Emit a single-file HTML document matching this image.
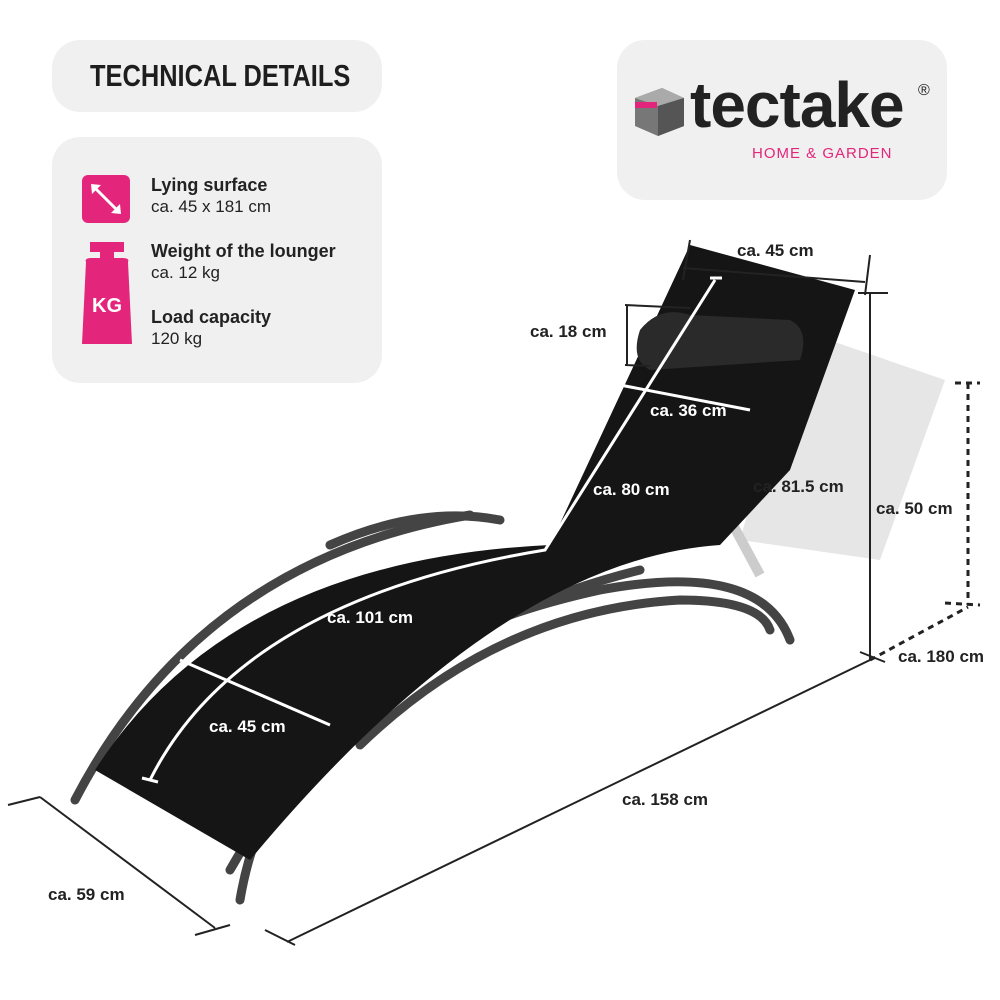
<!DOCTYPE html>
<html><head><meta charset="utf-8"><style>
html,body{margin:0;padding:0;background:#fff;}
body{width:1000px;height:1000px;position:relative;overflow:hidden;font-family:"Liberation Sans",sans-serif;}
.box{position:absolute;background:#f0f0f0;border-radius:28px;}
.t{position:absolute;color:#222;font-size:17px;line-height:21px;}
.t b{font-weight:bold;font-size:18px;}
</style></head><body>
<div class="box" style="left:52px;top:40px;width:330px;height:72px;"></div>
<div style="position:absolute;left:90px;top:58px;font-size:31px;font-weight:bold;color:#1e1e1e;transform:scaleX(0.82);transform-origin:left;">TECHNICAL DETAILS</div>
<div class="box" style="left:52px;top:137px;width:330px;height:246px;"></div>
<div style="position:absolute;left:82px;top:175px;width:48px;height:48px;background:#e3257b;border-radius:6px;"></div>
<svg style="position:absolute;left:82px;top:175px" width="48" height="48"><path d="M11 11 L37 37" stroke="#fff" stroke-width="3"/><path d="M9 9 L19 10 L10 19Z M39 39 L29 38 L38 29Z" fill="#fff"/></svg>
<svg style="position:absolute;left:80px;top:240px" width="56" height="110"><rect x="10" y="2" width="34" height="10" fill="#e3257b"/><rect x="20" y="10" width="14" height="8" fill="#e3257b"/><path d="M6 22 Q4 18 12 18 L42 18 Q50 18 48 22 L52 104 L2 104Z" fill="#e3257b"/><text x="27" y="72" text-anchor="middle" fill="#fff" font-family="Liberation Sans" font-weight="bold" font-size="20">KG</text></svg>
<div class="t" style="left:151px;top:175px"><b>Lying surface</b><br>ca. 45 x 181 cm</div>
<div class="t" style="left:151px;top:241px"><b>Weight of the lounger</b><br>ca. 12 kg</div>
<div class="t" style="left:151px;top:307px"><b>Load capacity</b><br>120 kg</div>
<div class="box" style="left:617px;top:40px;width:330px;height:160px;"></div>
<svg style="position:absolute;left:632px;top:84px" width="56" height="56"><path d="M3 14 L30 4 L52 14 L52 42 L26 52 L3 42Z" fill="#777"/><path d="M3 14 L30 4 L52 14 L26 22Z" fill="#aaa"/><path d="M26 22 L52 14 L52 42 L26 52Z" fill="#555"/><rect x="3" y="18" width="22" height="6" fill="#e3257b"/></svg>
<div style="position:absolute;left:690px;top:68px;font-size:64px;font-weight:bold;color:#222;letter-spacing:-1px;">tectake</div>
<div style="position:absolute;left:918px;top:82px;font-size:16px;color:#222;">®</div>
<div style="position:absolute;left:752px;top:145px;font-size:15px;color:#e3257b;letter-spacing:1px;">HOME &amp; GARDEN</div>

<svg style="position:absolute;left:0;top:0" width="1000" height="1000" font-family="Liberation Sans" font-weight="bold" font-size="17">
<path d="M800 330 L945 380 L880 560 L740 540Z" fill="#e6e6e6"/>
<path d="M725 510 L760 575" stroke="#ccc" stroke-width="10"/>
<g fill="none" stroke="#444" stroke-width="9" stroke-linecap="round">
<path d="M75 800 Q200 560 470 515"/>
<path d="M240 900 Q280 660 600 590 Q760 560 790 640"/>
<path d="M230 870 Q360 640 640 570"/>
<path d="M360 745 Q500 610 680 600 Q760 600 770 630"/>
<path d="M330 545 Q420 505 500 520"/>
</g>
<path d="M95 770 Q230 560 550 545 L690 245 L855 290 L790 470 L720 545 Q500 560 250 860 Z" fill="#151515"/>
<path d="M640 330 Q660 305 690 315 L790 320 Q810 330 800 360 L650 370 Q630 360 640 330Z" fill="#2a2a2a"/>
<g stroke="#fff" stroke-width="3" fill="none">
<path d="M150 780 Q240 600 545 550 L715 280"/>
<path d="M180 660 L330 725"/>
<path d="M620 385 L750 410"/>
<path d="M710 278 L722 278 M142 778 L158 782"/>
</g>
<g stroke="#222" stroke-width="2" fill="none">
<path d="M683 268 L865 282 M690 240 L683 280 M870 255 L865 295"/>
<path d="M625 305 L690 308 M625 365 L650 366 M627 305 L627 365"/>
<path d="M858 293 L888 293 M870 293 L870 660 M860 652 L885 662"/>
<path d="M8 805 L40 797 M40 797 L215 928 M195 935 L230 925"/>
<path d="M287 942 L870 660 M265 930 L295 945"/>
</g>
<g stroke="#222" stroke-width="3" fill="none" stroke-dasharray="6 5">
<path d="M968 383 L968 605 M955 383 L980 383 M945 603 L980 605"/>
<path d="M870 660 L968 607"/>
</g>
<g fill="#222">
<text x="737" y="256">ca. 45 cm</text>
<text x="530" y="337">ca. 18 cm</text>
<text x="753" y="492">ca. 81.5 cm</text>
<text x="876" y="514">ca. 50 cm</text>
<text x="898" y="662">ca. 180 cm</text>
<text x="622" y="805">ca. 158 cm</text>
<text x="48" y="900">ca. 59 cm</text>
</g>
<g fill="#fff">
<text x="650" y="416">ca. 36 cm</text>
<text x="593" y="495">ca. 80 cm</text>
<text x="327" y="623">ca. 101 cm</text>
<text x="209" y="732">ca. 45 cm</text>
</g>
</svg>
</body></html>
